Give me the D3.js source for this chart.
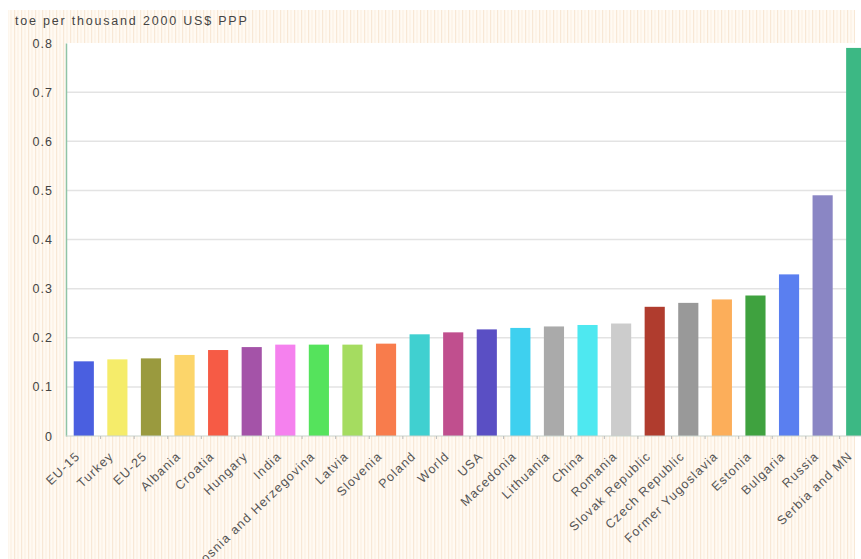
<!DOCTYPE html>
<html>
<head>
<meta charset="utf-8">
<script src="https://cdn.jsdelivr.net/npm/d3@7"></script>
<style>
  body { margin: 0; background: #fff; }
  text { font-family: "Liberation Sans", Arial, sans-serif; }
</style>
</head>
<body>
<div id="chart"></div>
<script>
var countries = ["EU-15", "Turkey", "EU-25", "Albania", "Croatia", "Hungary", "India",
  "Bosnia and Herzegovina", "Latvia", "Slovenia", "Poland", "World", "USA", "Macedonia",
  "Lithuania", "China", "Romania", "Slovak Republic", "Czech Republic", "Former Yugoslavia",
  "Estonia", "Bulgaria", "Russia", "Serbia and MN"];
var intensity = [0.152, 0.156, 0.158, 0.165, 0.175, 0.181, 0.186, 0.186, 0.186, 0.188,
  0.207, 0.211, 0.217, 0.220, 0.223, 0.226, 0.229, 0.263, 0.271, 0.278,
  0.286, 0.329, 0.490, 0.790];
var barColors = ["#4a5fe0", "#f5ec6a", "#9a9a3e", "#fcd56a", "#f65b45", "#a453a8", "#f581ee",
  "#55e35c", "#a5dc60", "#f87c4c", "#40d0d0", "#c04f8e", "#5a4fc4", "#3ed0ef",
  "#aaaaaa", "#4ee8f0", "#cccccc", "#b03c2e", "#999999", "#fcae5a",
  "#3fa23f", "#5a7ff0", "#8a86c4", "#3cb884"];
var yTicks = [0, 0.1, 0.2, 0.3, 0.4, 0.5, 0.6, 0.7, 0.8];
var yTitle = "toe per thousand 2000 US$ PPP";

var width = 861, height = 559;

var svg = d3.select("#chart").append("svg")
  .attr("width", width)
  .attr("height", height);

// striped paper background
var pat = svg.append("defs").append("pattern")
  .attr("id", "stripes")
  .attr("patternUnits", "userSpaceOnUse")
  .attr("width", 7)
  .attr("height", 10);
pat.append("rect").attr("width", 7).attr("height", 10).attr("fill", "#fffaf3");
pat.append("rect").attr("x", 0).attr("width", 1.2).attr("height", 10).attr("fill", "#f8e8d6");
pat.append("rect").attr("x", 3.5).attr("width", 1).attr("height", 10).attr("fill", "#fbeedf");

svg.append("rect")
  .attr("x", 8).attr("y", 10)
  .attr("width", 847).attr("height", 549)
  .attr("fill", "url(#stripes)");

var x = d3.scaleBand()
  .domain(countries)
  .range([67, 873])
  .paddingInner(0.4)
  .paddingOuter(0.2);

var y = d3.scaleLinear()
  .domain([0, 0.8])
  .range([436, 43]);

// white plot area
svg.append("rect")
  .attr("x", 66).attr("y", y(0.8))
  .attr("width", width - 66).attr("height", y(0) - y(0.8))
  .attr("fill", "#fff");

// gridlines
svg.append("g")
  .selectAll("line")
  .data(yTicks.filter(function(d) { return d > 0 && d < 0.8; }))
  .enter().append("line")
  .attr("x1", 66).attr("x2", width)
  .attr("y1", function(d) { return y(d); })
  .attr("y2", function(d) { return y(d); })
  .attr("stroke", "#e3e3e3")
  .attr("stroke-width", 1.5);

// bars
svg.append("g")
  .selectAll("rect")
  .data(countries)
  .enter().append("rect")
  .attr("x", function(d) { return x(d); })
  .attr("y", function(d, i) { return y(intensity[i]); })
  .attr("width", x.bandwidth())
  .attr("height", function(d, i) { return y(0) - y(intensity[i]); })
  .attr("fill", function(d, i) { return barColors[i]; });

// y axis
var yAxis = svg.append("g")
  .attr("transform", "translate(66,0)")
  .call(d3.axisLeft(y).tickValues(yTicks).tickFormat(d3.format("")).tickSize(0).tickPadding(13));
yAxis.select(".domain").attr("stroke", "#8fc4a6").attr("stroke-width", 1.5);
yAxis.selectAll("text")
  .attr("fill", "#444")
  .style("font-size", "12.5px")
  .style("letter-spacing", "1px");

// x axis
var step = x.step();
var xAxis = svg.append("g").attr("transform", "translate(0," + y(0) + ")");
xAxis.append("line")
  .attr("x1", 66).attr("x2", width)
  .attr("stroke", "#c9d3cc").attr("stroke-width", 1);
xAxis.selectAll(".tick")
  .data(countries)
  .enter().append("line")
  .attr("class", "tick")
  .attr("x1", function(d) { return x(d) + x.bandwidth() / 2 + step / 2; })
  .attr("x2", function(d) { return x(d) + x.bandwidth() / 2 + step / 2; })
  .attr("y1", 0).attr("y2", 3)
  .attr("stroke", "#bbb");

xAxis.selectAll(".lbl")
  .data(countries)
  .enter().append("text")
  .attr("class", "lbl")
  .attr("text-anchor", "end")
  .attr("transform", function(d) {
    return "translate(" + (x(d) + x.bandwidth() / 2 - 3) + ",21) rotate(-44)";
  })
  .attr("fill", "#555")
  .style("font-size", "12.5px")
  .style("letter-spacing", "1.2px")
  .text(function(d) { return d; });

// axis title
svg.append("text")
  .attr("x", 15).attr("y", 25)
  .attr("fill", "#444")
  .style("font-size", "12.5px")
  .style("letter-spacing", "1.8px")
  .text(yTitle);
</script>
</body>
</html>
